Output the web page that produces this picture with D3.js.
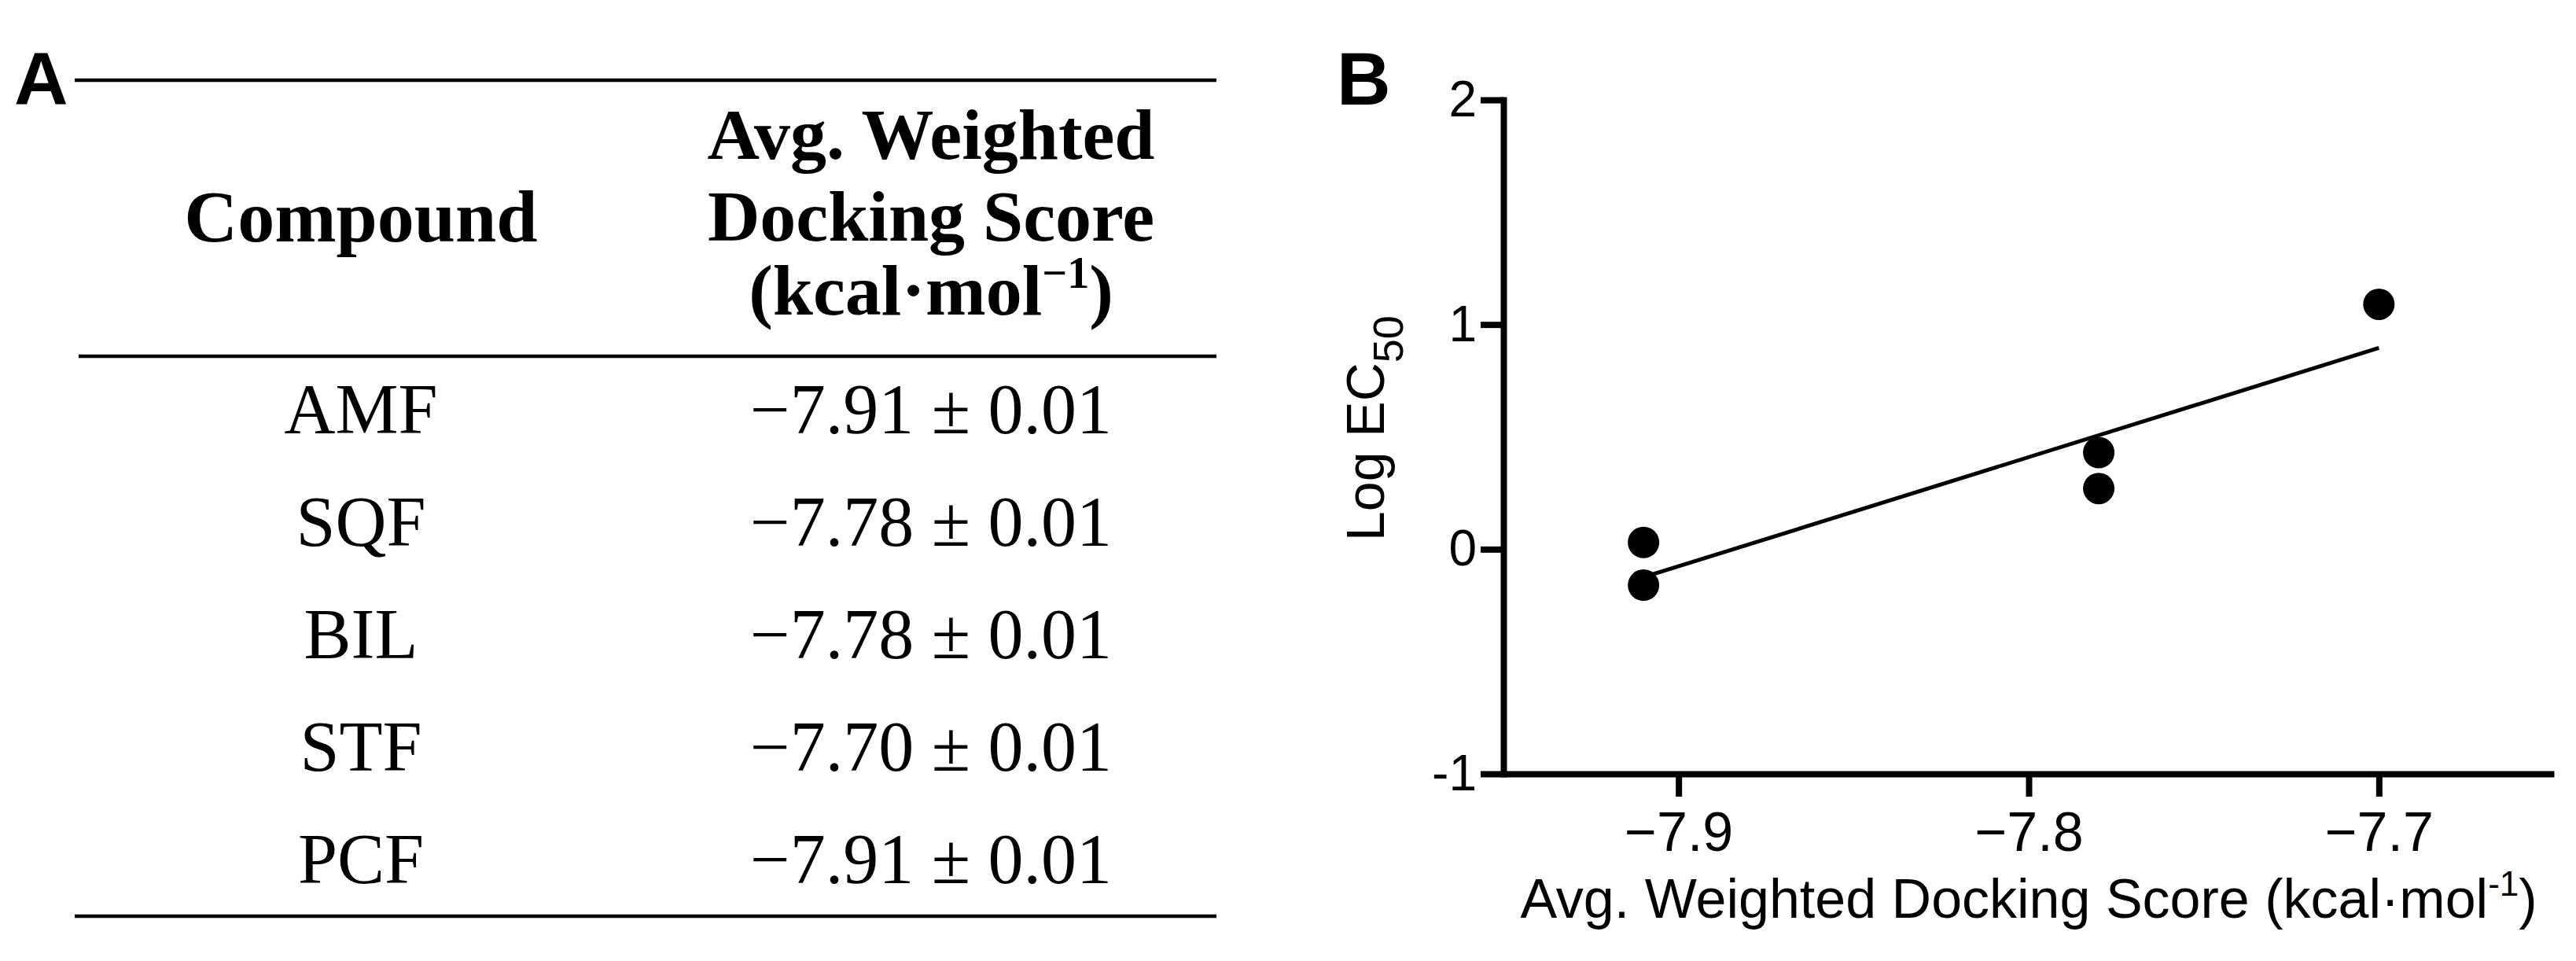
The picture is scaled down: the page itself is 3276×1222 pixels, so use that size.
<!DOCTYPE html>
<html>
<head>
<meta charset="utf-8">
<script src="https://cdn.jsdelivr.net/npm/d3@7"></script>
<style>
  html, body { margin: 0; padding: 0; background: #fff; }
  svg { display: block; }
</style>
</head>
<body>
<svg id="chart" width="3276" height="1222"></svg>
<script>
// ---------- data ----------
const compounds = ["AMF", "SQF", "BIL", "STF", "PCF"];
const dockingScores = [-7.91, -7.78, -7.78, -7.70, -7.91];
const dockingErrors = [0.01, 0.01, 0.01, 0.01, 0.01];

const plotX = [-7.91, -7.78, -7.78, -7.70, -7.91];
const plotLogEC50 = [0.03, 0.43, 0.27, 1.09, -0.16];

const xTicks = [-7.9, -7.8, -7.7];
const yTicks = [-1, 0, 1, 2];

// ---------- setup ----------
const svg = d3.select("#chart");
const serif = "'Liberation Serif', 'Times New Roman', serif";
const sans = "'Liberation Sans', Arial, sans-serif";

// ---------- Panel A: table ----------
const gA = svg.append("g");
gA.append("text").attr("x", 18).attr("y", 133)
  .attr("font-family", sans).attr("font-weight", "bold").attr("font-size", 95)
  .text("A");

const tableLeft = 95, tableRight = 1547;
const colX = d3.scaleOrdinal().domain(["compound", "score"]).range([459, 1184]);
const rowY = d3.scaleLinear().domain([0, 1]).range([551, 694]);

[[102, 95], [453, 100], [1165, 95]].forEach(([y, x0]) => {
  gA.append("line").attr("x1", x0).attr("x2", tableRight).attr("y1", y).attr("y2", y)
    .attr("stroke", "#000").attr("stroke-width", 4.5);
});

// header
gA.append("text").attr("x", colX("compound")).attr("y", 307)
  .attr("text-anchor", "middle").attr("font-family", serif).attr("font-weight", "bold")
  .attr("font-size", 94).text("Compound");

const hdr = gA.append("text").attr("text-anchor", "middle").attr("font-family", serif)
  .attr("font-weight", "bold").attr("font-size", 92);
hdr.append("tspan").attr("x", colX("score")).attr("y", 202).text("Avg. Weighted");
hdr.append("tspan").attr("x", colX("score")).attr("y", 306).text("Docking Score");
const h3 = gA.append("text").attr("x", colX("score")).attr("y", 400)
  .attr("text-anchor", "middle").attr("font-family", serif).attr("font-weight", "bold")
  .attr("font-size", 92);
h3.append("tspan").text("(kcal\u00B7mol");
h3.append("tspan").attr("font-size", 56).attr("dy", -34).text("\u22121");
h3.append("tspan").attr("dy", 34).text(")");

// rows
compounds.forEach((c, i) => {
  gA.append("text").attr("x", colX("compound")).attr("y", rowY(i))
    .attr("text-anchor", "middle").attr("font-family", serif).attr("font-size", 90)
    .text(c);
  gA.append("text").attr("x", colX("score")).attr("y", rowY(i))
    .attr("text-anchor", "middle").attr("font-family", serif).attr("font-size", 90)
    .text(d3.format(".2f")(dockingScores[i]).replace("-", "\u2212") + " \u00B1 " + d3.format(".2f")(dockingErrors[i]));
});

// ---------- Panel B: scatter ----------
const gB = svg.append("g");
gB.append("text").attr("x", 1700).attr("y", 133)
  .attr("font-family", sans).attr("font-weight", "bold").attr("font-size", 95)
  .text("B");

const x = d3.scaleLinear().domain([-7.95, -7.65]).range([1912, 3248]);
const y = d3.scaleLinear().domain([-1, 2]).range([984, 127]);

const yAxis = d3.axisLeft(y).tickValues(yTicks).tickSize(29).tickSizeOuter(0).tickPadding(5)
  .tickFormat(d => String(d));
const gy = gB.append("g").attr("transform", `translate(${x.range()[0]},0)`).call(yAxis);
gy.select(".domain").attr("stroke-width", 8).attr("stroke-linecap", "square");
gy.selectAll(".tick line").attr("stroke-width", 8);
gy.selectAll(".tick text").attr("font-family", sans).attr("font-size", 64).attr("fill", "#000");

const xAxis = d3.axisBottom(x).tickValues(xTicks).tickSize(29).tickSizeOuter(0).tickPadding(19)
  .tickFormat(d => d3.format(".1f")(d).replace("-", "\u2212"));
const gx = gB.append("g").attr("transform", `translate(0,${y.range()[0]})`).call(xAxis);
gx.select(".domain").attr("stroke-width", 8);
gx.selectAll(".tick line").attr("stroke-width", 8);
gx.selectAll(".tick text").attr("font-family", sans).attr("font-size", 70).attr("fill", "#000");

// regression line (least squares from data)
const mx = d3.mean(plotX), my = d3.mean(plotLogEC50);
const sxy = d3.sum(plotX.map((v, i) => (v - mx) * (plotLogEC50[i] - my)));
const sxx = d3.sum(plotX.map(v => (v - mx) ** 2));
const slope = sxy / sxx, intercept = my - slope * mx;
const [xmin, xmax] = d3.extent(plotX);
gB.append("path")
  .datum([xmin, xmax])
  .attr("d", d3.line().x(d => x(d)).y(d => y(slope * d + intercept)))
  .attr("stroke", "#000").attr("stroke-width", 5).attr("fill", "none");

// points
gB.selectAll("circle.pt").data(plotX.map((v, i) => [v, plotLogEC50[i]]))
  .join("circle").attr("class", "pt")
  .attr("cx", d => x(d[0])).attr("cy", d => y(d[1])).attr("r", 20).attr("fill", "#000");

// axis titles
const xt = gB.append("text").attr("x", (x.range()[0] + x.range()[1]) / 2).attr("y", 1167)
  .attr("text-anchor", "middle").attr("font-family", sans).attr("font-size", 70);
xt.append("tspan").text("Avg. Weighted Docking Score (kcal\u00B7mol");
xt.append("tspan").attr("font-size", 44).attr("dy", -28).text("-1");
xt.append("tspan").attr("dy", 28).text(")");

const yt = gB.append("text").attr("transform", "translate(1760,688) rotate(-90)")
  .attr("text-anchor", "start").attr("font-family", sans).attr("font-size", 68);
yt.append("tspan").text("Log EC");
yt.append("tspan").attr("font-size", 54).attr("dy", 24).text("50");
</script>
</body>
</html>
